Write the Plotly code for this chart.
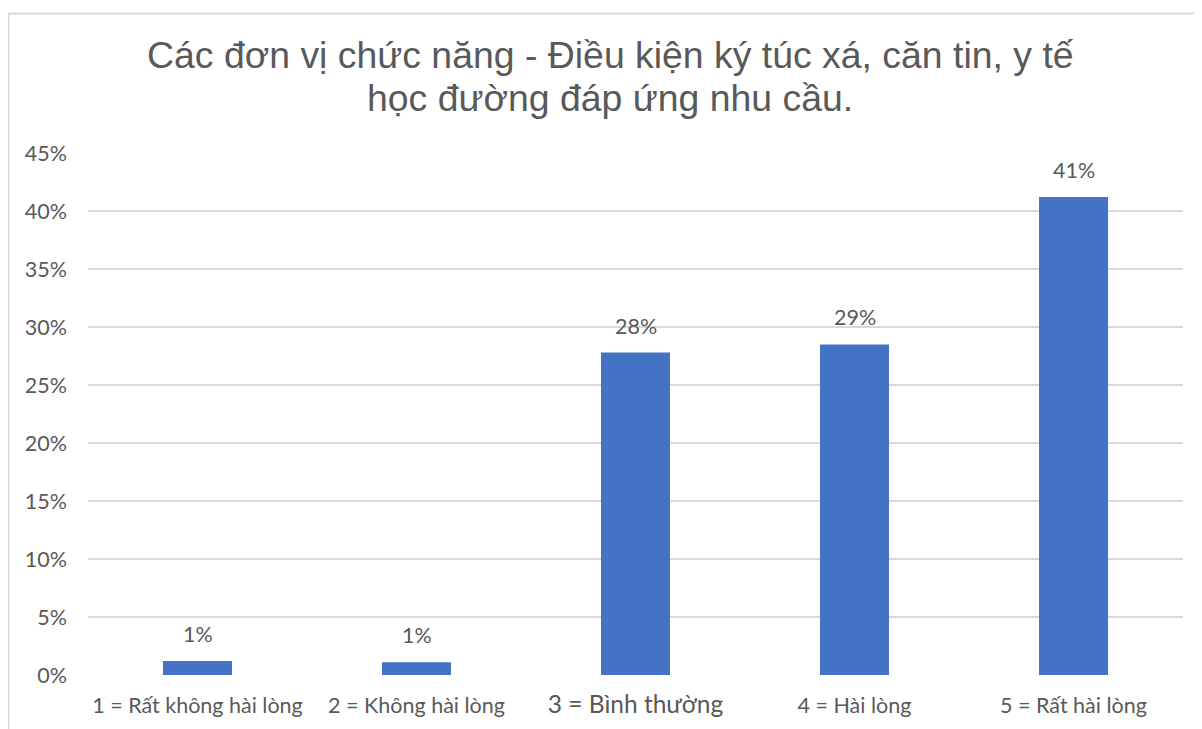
import plotly.graph_objects as go

categories = ["1 = Rất không hài lòng", "2 = Không hài lòng", "3 = Bình thường", "4 = Hài lòng", "5 = Rất hài lòng"]
values = [1.2, 1.1, 27.8, 28.5, 41.2]
labels = ["1%", "1%", "28%", "29%", "41%"]
title_lines = ["Các đơn vị chức năng - Điều kiện ký túc xá, căn tin, y tế", "học đường đáp ứng nhu cầu."]
y_ticks = [0, 5, 10, 15, 20, 25, 30, 35, 40, 45]

GREY = "#595959"
FONT = "Lato, 'Open Sans', sans-serif"
TFONT = "'Liberation Sans', Arial, sans-serif"

ticktext = []
for c in categories:
    if c.startswith("3"):
        ticktext.append('<span style="font-size:24.5px">%s</span>' % c)
    else:
        ticktext.append(c)

fig = go.Figure()
fig.add_trace(go.Bar(
    x=categories, y=values, width=0.315,
    marker=dict(color="#4472C4", line=dict(width=0)),
    hoverinfo="skip",
))

for c, v, t in zip(categories, values, labels):
    fig.add_annotation(x=c, y=v, text=t, showarrow=False, yanchor="bottom", yshift=12,
                       font=dict(family=FONT, size=21.5, color=GREY))

# page has an 8px body margin; figure coordinates = page coordinates - 8
OFF = 8
W, H = 1202 - OFF, 729 - OFF
L, R, T, B = 88 - OFF, 19, 153 - OFF, 54
pw, ph = W - L - R, H - T - B

def px_to_paper_x(px):
    return (px - OFF - L) / pw

def px_to_paper_y(py):
    return (H - B - (py - OFF)) / ph

fig.add_annotation(xref="paper", yref="paper", x=px_to_paper_x(610), y=px_to_paper_y(78),
                   text=title_lines[0], showarrow=False, yanchor="bottom", xanchor="center",
                   font=dict(family=TFONT, size=37.4, color=GREY))
fig.add_annotation(xref="paper", yref="paper", x=px_to_paper_x(610), y=px_to_paper_y(121),
                   text=title_lines[1], showarrow=False, yanchor="bottom", xanchor="center",
                   font=dict(family=TFONT, size=37.4, color=GREY))

# chart-area border (left and top)
fig.add_shape(type="line", xref="paper", yref="paper", x0=px_to_paper_x(8.5), x1=px_to_paper_x(8.5),
              y0=px_to_paper_y(740), y1=px_to_paper_y(13.5), line=dict(color="#D9D9D9", width=2))
fig.add_shape(type="line", xref="paper", yref="paper", x0=px_to_paper_x(8.5), x1=px_to_paper_x(1220),
              y0=px_to_paper_y(13.5), y1=px_to_paper_y(13.5), line=dict(color="#D9D9D9", width=2))

fig.update_layout(
    width=W, height=H,
    margin=dict(l=L, r=R, t=T, b=B, autoexpand=False),
    paper_bgcolor="white", plot_bgcolor="white",
    showlegend=False,
    font=dict(family=FONT, color=GREY),
)
fig.update_xaxes(
    tickmode="array", tickvals=categories, ticktext=ticktext,
    tickfont=dict(family=FONT, size=21.5, color=GREY),
    showgrid=False, showline=False, zeroline=False, ticks="", ticklabelstandoff=15,
)
fig.update_yaxes(
    range=[0, 45], tickmode="array", tickvals=y_ticks,
    ticktext=["%d%%" % v for v in y_ticks],
    tickfont=dict(family=FONT, size=21.5, color=GREY),
    showgrid=True, gridcolor="#D9D9D9", gridwidth=1.5,
    zeroline=False, showline=False, ticks="", ticklabelstandoff=20,
)

fig.write_html("out.html")
